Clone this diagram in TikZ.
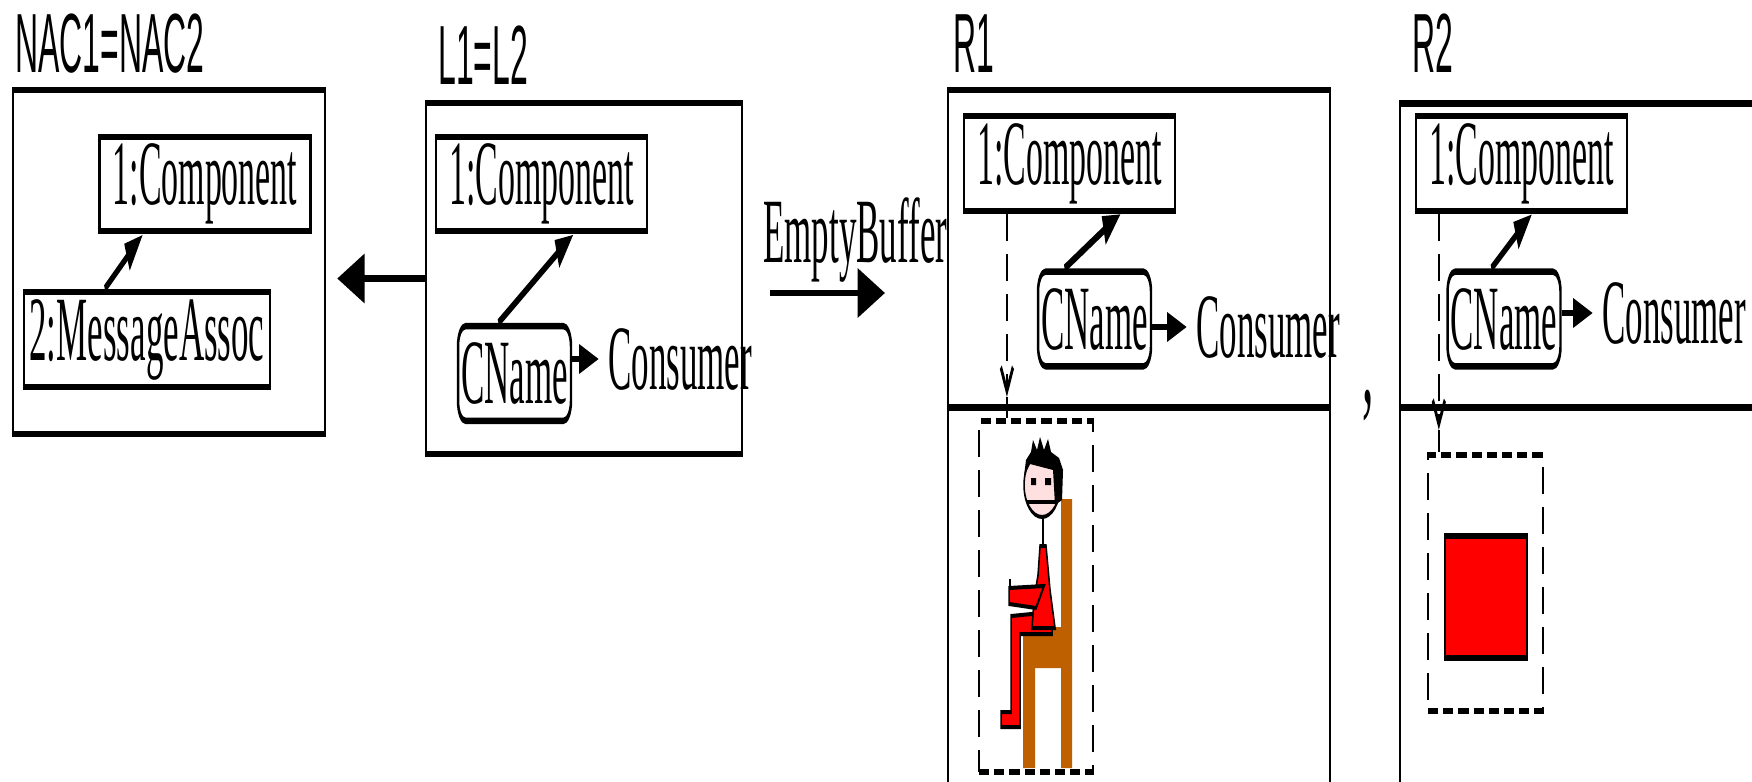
\documentclass[tikz,border=0pt]{standalone}
\usepackage{fontspec}
\setmainfont{Liberation Serif}
\newfontfamily\titlefont{Liberation Sans}
\newfontfamily\compfont[FakeStretch=0.97]{Liberation Serif}
\usetikzlibrary{arrows.meta,calc}
\definecolor{chair}{RGB}{190,96,0}
\definecolor{face}{RGB}{255,224,224}

\begin{document}
\begin{tikzpicture}[x=0.25pt,y=-0.25pt,
   font=\fontsize{23}{26}\selectfont,
   panel/.style={draw,line width=1.6pt,inner sep=0pt},
   obj/.style={draw,line width=1.6pt,inner sep=0pt},
   comp/.style={obj,minimum width=139pt,minimum height=23.6pt,font=\compfont\fontsize{23}{26}\selectfont},
   attr/.style={obj,rounded corners=5pt,minimum width=74.3pt,minimum height=23.7pt},
   title/.style={inner sep=0pt,anchor=base west,font=\titlefont\fontsize{21}{24}\selectfont},
   txt/.style={inner sep=0pt,anchor=base west},
   dashbox/.style={draw,line width=1.6pt,dash pattern=on 6.75pt off 3.25pt,inner sep=0pt},
   link/.style={line width=2pt,-{Triangle[length=12pt,width=7pt]}},
   valarrow/.style={line width=1.6pt,-{Triangle[length=13pt,width=7pt]},shorten >=6pt},
   bigarrow/.style={line width=1.6pt,-{Triangle[length=18pt,width=12pt]}},
   dashline/.style={line width=1.6pt,dash pattern=on 6.75pt off 3.25pt,-{Straight Barb[length=6pt,width=8pt]}}]
   \useasboundingbox (0,0) rectangle (1752,781);
   \begin{scope}[transform canvas={xscale=0.38},x=0.6579pt]

   \node[title] (nacname) at (15,73) {NAC1=NAC2};
   \node[panel,minimum width=205.3pt,minimum height=86pt] (nacfr) at (169,262) {};
   \node[comp] (naccomp) at (205,184) {1:Component};
   \node[obj,minimum width=161.8pt,minimum height=23.75pt] (nacmsg) at (147,339.5) {2:MessageAssoc};
   \draw[link] ($(nacmsg.north west)!.33!(nacmsg.north east)$) -- ($(naccomp.south west)!.21!(naccomp.south east)$);

   \node[title] (lname) at (438,85) {L1=L2};
   \node[panel,minimum width=207.9pt,minimum height=87.75pt] (lfr) at (584,278.5) {};
   \node[comp] (lcomp) at (541.5,184) {1:Component};
   \node[attr] (lcn) at (514.5,373.5) {CName};
   \node[txt] (lcon) at (608,389) {Consumer};
   \draw[link] ($(lcn.north west)!.36!(lcn.north east)$) -- ($(lcomp.south west)!.65!(lcomp.south east)$);
   \draw[valarrow] (lcn.east |- lcon.west) -- (lcon.west);
   \draw[bigarrow,shorten >=7.2pt] (lfr.west) -- (nacfr.east |- lfr.west);

   \node[txt] (ebname) at (763,262) {EmptyBuffer};
   \coordinate (ebl) at (770,293);
   \coordinate (ebr) at (885,293);
   \draw[bigarrow] (ebl) -- (ebr);

   \node[title] (r1name) at (953,73) {R1};
   \node[panel,minimum width=251.3pt,minimum height=185pt] (r1fr) at (1139,460) {};
   \coordinate (r1div) at (0,407.5);
   \draw[line width=1.6pt] (r1fr.west |- r1div) -- (r1fr.east |- r1div);
   \node[comp] (r1comp) at (1069.5,163.5) {1:Component};
   \node[attr] (r1cn) at (1094.5,319) {CName};
   \node[txt] (r1con) at (1196,357) {Consumer};
   \draw[link] ($(r1cn.north west)!.24!(r1cn.north east)$) -- ($(r1comp.south west)!.74!(r1comp.south east)$);
   \draw[valarrow] (r1cn.east |- r1con.west) -- (r1con.west);
   \node[dashbox,minimum width=75pt,minimum height=87.75pt] (r1box) at (1036,596.5) {};
   \coordinate (r1top) at ($(r1comp.south west)!.207!(r1comp.south east)$);
   \coordinate (r1tip) at (0,397);
   \draw[dashline] (r1top) -- (r1top |- r1tip);
   \draw[line width=1.6pt] (r1top |- r1tip) -- (r1top |- r1box.north);

   \fill[chair] (1061,499) rectangle (1072,768)
      (1023,627) rectangle (1061,668)
      (1023,668) rectangle (1035,768);
   \filldraw[fill=red,line width=1pt] (1052,612) -- (1052,634) -- (1020,634) -- (1020,727)
      -- (1001,727) -- (1001,712) -- (1011,712) -- (1011,616) -- cycle;
   \filldraw[fill=red,line width=1pt] (1040,546) -- (1046,546) -- (1050,590) -- (1055,628)
      -- (1032,628) -- (1034,600) -- (1038,575) -- cycle;
   \filldraw[fill=red,line width=1pt] (1044,586) -- (1009,588) -- (1009,604) -- (1036,608) -- cycle;
   \draw[line width=1pt] (1010,588) -- (1010,579);
   \draw[line width=1pt] (1043,518) -- (1043,546);
   \filldraw[fill=face,line width=1pt] (1042,485) ellipse[x radius=18,y radius=32];
   \fill (1024,476) -- (1026,460) -- (1031,452) -- (1033,440) -- (1037,450) -- (1040,437)
      -- (1044,450) -- (1048,439) -- (1051,452) -- (1059,458) -- (1063,470) -- (1062,500)
      -- (1055,505) -- (1053,470) -- (1030,464) -- cycle;
   \fill (1031,478) rectangle (1036,485) (1045,478) rectangle (1051,485);
   \draw[line width=1.2pt] (1027,502) -- (1056,502);

   \node[txt,font=\fontsize{30}{30}\selectfont] (comma) at (1362,402) {,};

   \node[title] (r2name) at (1412,73) {R2};
   \node[panel,minimum width=329pt,minimum height=181.6pt] (r2fr) at (1650,466.75) {};
   \coordinate (r2div) at (0,407.5);
   \draw[line width=1.6pt] (r2fr.west |- r2div) -- (r2fr.east |- r2div);
   \node[comp] (r2comp) at (1521.5,163.5) {1:Component};
   \node[attr] (r2cn) at (1504,319) {CName};
   \node[txt] (r2con) at (1602,343) {Consumer};
   \draw[link] ($(r2cn.north west)!.39!(r2cn.north east)$) -- ($(r2comp.south west)!.55!(r2comp.south east)$);
   \draw[valarrow] (r2cn.east |- r2con.west) -- (r2con.west);
   \node[dashbox,minimum width=75.7pt,minimum height=64pt] (r2box) at (1485.5,583) {};
   \node[obj,fill=red,minimum width=53.9pt,minimum height=30.5pt] (r2rect) at (1486,597) {};
   \coordinate (r2top) at ($(r2comp.south west)!.113!(r2comp.south east)$);
   \coordinate (r2tip) at (0,430);
   \draw[dashline] (r2top) -- (r2top |- r2tip);
   \draw[line width=1.6pt] (r2top |- r2tip) -- (r2top |- r2box.north);

   \end{scope}
\end{tikzpicture}
\end{document}
